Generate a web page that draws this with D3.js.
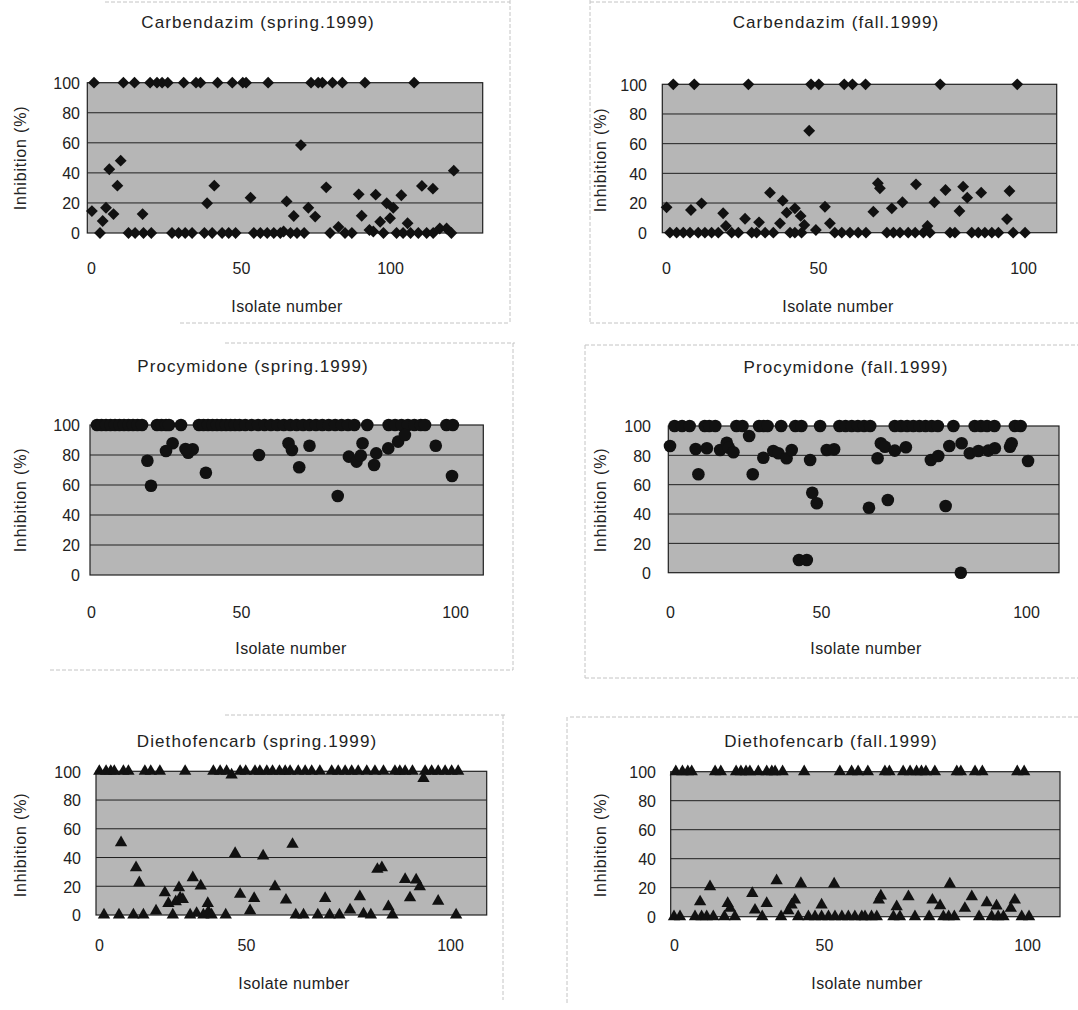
<!DOCTYPE html>
<html><head><meta charset="utf-8">
<script src="https://cdn.jsdelivr.net/npm/d3@7"></script>
<style>
body{margin:0;background:#fff}
text{font-family:"Liberation Sans",Arial,sans-serif;fill:#222}
</style>
</head><body>
<svg id="chart" width="1078" height="1010"></svg>
<script>
// ---------- DATA ----------
const panelTitles = ["Carbendazim (spring.1999)","Carbendazim (fall.1999)","Procymidone (spring.1999)","Procymidone (fall.1999)","Diethofencarb (spring.1999)","Diethofencarb (fall.1999)"];
const xAxisTitle = "Isolate number";
const yAxisTitle = "Inhibition (%)";
const xTickValues = [0,50,100];
const yTickValues = [0,20,40,60,80,100];
const gridValues = [20,40,60,80];

const carbendazimSpring = [
[1.0,100],[10.8,100],[14.5,100],[19.7,100],[22.0,100],[23.7,100],[25.6,100],[30.9,100],[35.0,100],[36.5,100],[42.2,100],[47.1,100],[50.6,100],[51.7,100],[59.1,100],[73.5,100],[75.9,100],[77.3,100],[80.7,100],[84.0,100],[91.6,100],[108.1,100],
[9.9,48.1],[6.1,42.4],[8.8,31.5],[41.1,31.5],[38.7,19.8],[53.2,23.5],[0.3,14.6],[5.0,16.8],[7.5,12.6],[3.9,8.0],[17.2,12.6],[65.3,21.0],[70.1,58.5],[121.4,41.5],[78.6,30.4],[89.5,25.7],[95.2,25.5],[103.8,25.1],[110.7,31.3],[114.4,29.5],[72.6,16.8],[67.7,11.3],[74.9,10.9],[90.5,11.5],[98.9,19.8],[101.1,16.8],[100.0,9.8],[96.7,7.5],[105.9,6.5],
[3.0,0],[12.5,0],[14.7,0],[17.5,0],[20.1,0],[27.0,0],[29.2,0],[31.4,0],[33.7,0],[37.8,0],[40.4,0],[43.7,0],[45.9,0],[48.2,0],[54.3,0],[56.5,0],[58.8,0],[61.0,0],[63.2,0],[64.3,1],[66.6,0],[68.8,0],[71.2,0],[79.9,0],[82.7,4],[84.9,0],[87.2,0],[93.1,2],[94.4,1],[97.8,0],[102.2,0],[104.4,0],[106.9,0],[109.5,0],[112.3,0],[114.5,0],[116.7,3],[119.0,3],[120.6,0]
];

const carbendazimFall = [
[2.4,100],[9.3,100],[27.1,100],[47.7,100],[50.2,100],[56.4,100],[58.4,100],[61.6,100],[79.8,100],[98.6,100],
[47.1,68.7],[34.2,27.0],[11.7,19.8],[0.2,17.1],[8.2,15.3],[18.8,13.1],[26.0,9.4],[19.7,4.5],[30.6,7.0],[38.4,21.6],[39.7,13.5],[42.4,16.4],[44.3,11.3],[37.5,6.3],[45.5,5.2],[49.3,1.8],[51.7,17.5],[52.9,6.3],[64.6,33.3],[65.1,29.9],[73.9,32.6],[81.1,28.8],[85.4,31.0],[86.4,23.6],[89.8,27.0],[96.7,28.1],[63.5,14.2],[68.0,16.4],[70.6,20.5],[78.4,20.5],[84.5,14.6],[96.1,9.2],[76.7,4.5],
[1.3,0],[3.5,0],[5.7,0],[7.9,0],[10.6,0],[12.8,0],[15.0,0],[17.2,0],[21.6,0],[23.8,0],[28.2,0],[29.8,0],[32.6,0],[35.3,0],[40.8,0],[42.4,0],[44.6,0],[54.1,0],[55.8,0],[57.8,0],[59.8,0],[61.7,0],[66.8,0],[68.4,0],[70.0,0],[72.0,0],[73.7,0],[75.7,0],[77.3,0],[82.2,0],[83.4,0],[87.5,0],[89.1,0],[90.7,0],[92.4,0],[94.0,0],[97.6,0],[100.5,0]
];

const procymidoneSpring = [
[2,100],[3.5,100],[5,100],[6.5,100],[8,100],[9.5,100],[11,100],[12.5,100],[14,100],[15.5,100],[17,100],[22,100],[23.5,100],[25,100],[26,100],[30,100],[36,100],[37.5,100],[39,100],[40.5,100],[42,100],[43.5,100],[45,100],[46.5,100],[48,100],[49.5,100],[51,100],[52.5,100],[54,100],[55.5,100],[57,100],[58.5,100],[60,100],[61.5,100],[63,100],[64.5,100],[66,100],[67.5,100],[69,100],[70.5,100],[72,100],[73.5,100],[75,100],[76.5,100],[79.5,100],[84.5,100],[86,100],[87.5,100],[89,100],[90.5,100],[92,100],[93,100],[98,100],[99.5,100],
[27.2,87.8],[25,82.7],[32.4,81.5],[33.9,83.8],[31.5,84],[18.8,76.2],[20,59.5],[38.3,68.2],[54.2,80],[61.1,87.8],[61.9,83.3],[66.0,86.2],[63.6,71.8],[72.6,52.7],[75.2,78.9],[77.0,75.6],[78.0,79.6],[78.4,87.8],[81.1,73.3],[81.6,81.1],[84.4,84.4],[86.7,88.9],[88.3,93.3],[95.5,86.2],[99.3,66]
];

const procymidoneFall = [
[1.5,100],[4,100],[6.5,100],[11.5,100],[13,100],[15,100],[22,100],[24,100],[29.5,100],[31,100],[32.3,100],[36.8,100],[41.5,100],[43.5,100],[49.7,100],[54.5,100],[56,100],[57.5,100],[59,100],[60.5,100],[62,100],[68,100],[69.5,100],[71,100],[72.5,100],[74,100],[75.5,100],[77,100],[78.5,100],[82.3,100],[87.5,100],[89,100],[90.5,100],[92.3,100],[97.3,100],[98.7,100],
[0,86.4],[8.5,84.3],[12.2,84.8],[16.6,83.6],[18.8,88.6],[19.5,85.2],[21.0,82.1],[26.2,93.2],[9.4,67.1],[27.4,67.1],[30.9,78.4],[34.2,83.0],[35.9,81.4],[38.6,78.0],[40.3,83.6],[46.4,76.8],[47.1,54.5],[48.6,47.3],[42.7,8.7],[45.3,8.7],[51.4,83.6],[53.2,84.1],[64.6,88.2],[65.6,85.9],[68.0,83.2],[70.7,85.5],[63.8,78.0],[76.8,76.8],[78.6,79.5],[81.3,86.4],[84.3,88.2],[86.3,81.4],[88.4,83.0],[90.8,83.2],[92.4,84.8],[96.1,85.9],[96.5,88.2],[100.5,76.1],[61.7,44.3],[66.3,49.6],[80.4,45.5],[84.1,0]
];

const diethofencarbSpring = [
[0.1,100],[2.4,100],[4.0,100],[5.2,100],[8.3,100],[10.0,100],[15.6,100],[17.6,100],[20.7,100],[29.3,100],[38.9,100],[41.2,100],[43.4,100],[45.1,97.5],[48.0,100],[49.9,100],[52.2,100],[53.4,100],[55.1,100],[56.5,100],[58.2,100],[59.6,100],[60.8,100],[62.8,100],[64.5,100],[66.1,100],[68.1,100],[71.0,100],[72.6,100],[74.3,100],[75.9,100],[77.5,100],[79.6,100],[81.6,100],[83.7,100],[86.5,100],[87.7,100],[89.0,100],[90.8,100],[93.5,95],[93.9,100],[95.5,100],[97.1,100],[98.8,100],[100.4,100],[102.0,100],
[7.5,50.3],[46.3,42.9],[54.2,41.1],[12.6,32.9],[13.7,22.5],[31.9,26.0],[34.6,20.2],[27.2,19.0],[22.4,15.5],[27.6,12.0],[23.6,8.1],[26.1,9.3],[28.5,10.9],[19.4,2.8],[37.0,8.1],[37.2,2.3],[48.0,14.4],[52.0,11.6],[57.1,19.7],[59.8,10.4],[61.4,49.2],[51.0,3.0],[33.2,1.2],[69.4,11.6],[77.9,12.7],[75.5,3.5],[82.2,31.8],[83.3,32.9],[89.0,24.8],[91.7,24.4],[92.6,19.7],[90.2,12.0],[97.1,9.7],[84.9,5.8],[78.8,0.7],
[1.7,0],[6.8,0],[11.7,0],[15.1,0],[25.1,0],[31.0,0],[35.5,0],[38.3,0],[43.1,0],[62.2,0],[64.1,0],[67.6,0],[70.5,0],[72.9,0],[80.6,0],[85.9,0],[101.5,0]
];

const diethofencarbFall = [
[0.6,100],[2.8,100],[4.6,100],[5.9,100],[13.7,100],[15.6,100],[20.7,100],[22.3,100],[24.0,100],[25.3,100],[28.1,100],[30.9,100],[32.6,100],[33.7,100],[36.2,100],[43.4,100],[53.9,100],[56.8,100],[58.4,100],[60.8,100],[65.0,100],[66.1,100],[69.5,100],[71.2,100],[72.8,100],[74.0,100],[75.1,100],[77.3,100],[82.7,100],[83.7,100],[87.2,100],[89.0,100],[97.6,100],[99.3,100],
[12.0,20.7],[8.7,10.3],[17.9,9.2],[18.7,5.8],[26.1,16.1],[27.0,4.6],[30.9,9.2],[34.2,24.8],[42.3,23.0],[52.5,22.6],[40.3,11.5],[39.2,8.1],[38.1,4.1],[49.2,8.1],[81.0,22.6],[64.0,14.3],[63.5,11.5],[70.8,13.8],[76.7,11.5],[78.6,7.6],[86.4,13.8],[90.1,9.7],[92.5,7.4],[97.0,11.5],[96.0,5.8],[84.7,5.8],[67.9,6.9],
[0,0],[2.0,0],[7.0,0],[9.2,0],[10.9,0],[13.1,0],[16.8,0],[20.3,0],[29.4,0],[35.7,0],[41.4,0],[44.8,0],[47.0,0],[49.2,0],[51.1,0],[52.7,0],[54.4,0],[56.0,0],[57.6,0],[59.3,0],[60.1,0],[61.7,0],[63.0,0],[67.1,0],[68.7,0],[72.4,0],[75.9,0],[79.4,0],[80.7,0],[82.1,0],[88.2,0],[91.3,0],[92.9,0],[94.2,0],[98.7,0],[100.5,0]
];

// ---------- LAYOUT ----------
const panels = [
 {title:panelTitles[0], data:carbendazimSpring, marker:"diamond", x0:87.3, x1:482.7, yTop:82.7, yBot:233, xr:[91,241,390], yLabX:80, xLabY:268, tPos:[258,22], xtPos:[287,306], ytPos:[20,158]},
 {title:panelTitles[1], data:carbendazimFall, marker:"diamond", x0:662.3, x1:1056.7, yTop:84.3, yBot:232.7, xr:[666,818,1023], yLabX:647, xLabY:268, tPos:[836,22], xtPos:[838,306], ytPos:[600,160]},
 {title:panelTitles[2], data:procymidoneSpring, marker:"circle", x0:90, x1:483.3, yTop:425, yBot:575, xr:[91,241,455], yLabX:80, xLabY:612, tPos:[253,366], xtPos:[291,648], ytPos:[20,500]},
 {title:panelTitles[3], data:procymidoneFall, marker:"circle", x0:668.3, x1:1059, yTop:426, yBot:572.7, xr:[670,821,1026], yLabX:651, xLabY:612, tPos:[846,367], xtPos:[866,648], ytPos:[600,500]},
 {title:panelTitles[4], data:diethofencarbSpring, marker:"triangle", x0:96, x1:486.7, yTop:771.3, yBot:915, xr:[99,246,450], yLabX:81, xLabY:945, tPos:[257,741], xtPos:[294,983], ytPos:[20,845]},
 {title:panelTitles[5], data:diethofencarbFall, marker:"triangle", x0:670.7, x1:1060, yTop:771.7, yBot:916.7, xr:[674,824,1027], yLabX:656, xLabY:945, tPos:[831,741], xtPos:[867,983], ytPos:[600,845]}
];

// faint frame lines around the pasted panels
const frameLines = [
 [105,2,510,2],[510,0,510,322],[180,323,510,323],
 [590,0,590,322],[590,323,1078,323],[590,2,1078,2],
 [225,343,515,343],[513,343,513,670],[50,670,513,670],
 [585,345,1078,345],[585,345,585,678],[585,678,1078,678],
 [225,715,505,715],[503,715,503,1000],
 [570,717,1078,717],[567,717,567,1005]
];

const svg = d3.select("#chart");
const FS = 16;

svg.append("g").selectAll("line").data(frameLines).join("line")
  .attr("x1",d=>d[0]).attr("y1",d=>d[1]).attr("x2",d=>d[2]).attr("y2",d=>d[3])
  .attr("stroke","#c4c4c4").attr("stroke-width",1).attr("stroke-dasharray","4,2");

panels.forEach(p=>{
  const g = svg.append("g");
  const x = d3.scaleLinear().domain(xTickValues).range(p.xr);
  const y = d3.scaleLinear().domain([0,100]).range([p.yBot,p.yTop]);

  // plot background
  g.append("rect").attr("x",p.x0).attr("y",p.yTop).attr("width",p.x1-p.x0).attr("height",p.yBot-p.yTop)
    .attr("fill","#b6b6b6");
  // grid
  g.append("g").selectAll("line").data(gridValues).join("line")
    .attr("x1",p.x0).attr("x2",p.x1).attr("y1",d=>y(d)).attr("y2",d=>y(d))
    .attr("stroke","#202020").attr("stroke-width",1);
  g.append("rect").attr("x",p.x0).attr("y",p.yTop).attr("width",p.x1-p.x0).attr("height",p.yBot-p.yTop)
    .attr("fill","none").attr("stroke","#202020").attr("stroke-width",1.2);

  // y axis
  const ya = g.append("g").attr("transform",`translate(${p.x0},0)`)
    .call(d3.axisLeft(y).tickValues(yTickValues).tickSize(0).tickPadding(p.x0-p.yLabX));
  ya.select(".domain").remove();
  ya.selectAll("text").attr("font-size",FS).attr("font-family",null).attr("fill","#222").attr("dy","0.36em");

  // x axis
  const xa = g.append("g").attr("transform",`translate(0,${p.yBot})`)
    .call(d3.axisBottom(x).tickValues(xTickValues).tickSize(0).tickPadding(0));
  xa.select(".domain").remove();
  xa.selectAll("text").attr("font-size",FS).attr("font-family",null).attr("fill","#222")
    .attr("y",p.xLabY-p.yBot).attr("dy","0.36em");

  // titles
  g.append("text").attr("x",p.tPos[0]).attr("y",p.tPos[1]).attr("dy","0.36em").attr("text-anchor","middle")
    .attr("font-size",17).attr("letter-spacing","1.1px").text(p.title);
  g.append("text").attr("x",p.xtPos[0]).attr("y",p.xtPos[1]).attr("dy","0.36em").attr("text-anchor","middle")
    .attr("font-size",FS).attr("letter-spacing","0.4px").text(xAxisTitle);
  g.append("text").attr("transform",`translate(${p.ytPos[0]},${p.ytPos[1]}) rotate(-90)`).attr("dy","0.36em")
    .attr("text-anchor","middle").attr("font-size",FS).attr("letter-spacing","0.8px").text(yAxisTitle);

  // markers
  const mg = g.append("g").attr("fill","#111");
  if(p.marker==="circle"){
    mg.selectAll("circle").data(p.data).join("circle")
      .attr("cx",d=>x(d[0])).attr("cy",d=>y(d[1])).attr("r",6.3);
  } else if(p.marker==="diamond"){
    const sym = d3.symbol().type(d3.symbolSquare).size(70);
    mg.selectAll("path").data(p.data).join("path")
      .attr("d",sym).attr("transform",d=>`translate(${x(d[0])},${y(d[1])}) rotate(45)`);
  } else {
    const sym = d3.symbol().type(d3.symbolTriangle).size(66);
    mg.selectAll("path").data(p.data).join("path")
      .attr("d",sym).attr("transform",d=>`translate(${x(d[0])},${y(d[1])})`);
  }
});
</script>
</body></html>
